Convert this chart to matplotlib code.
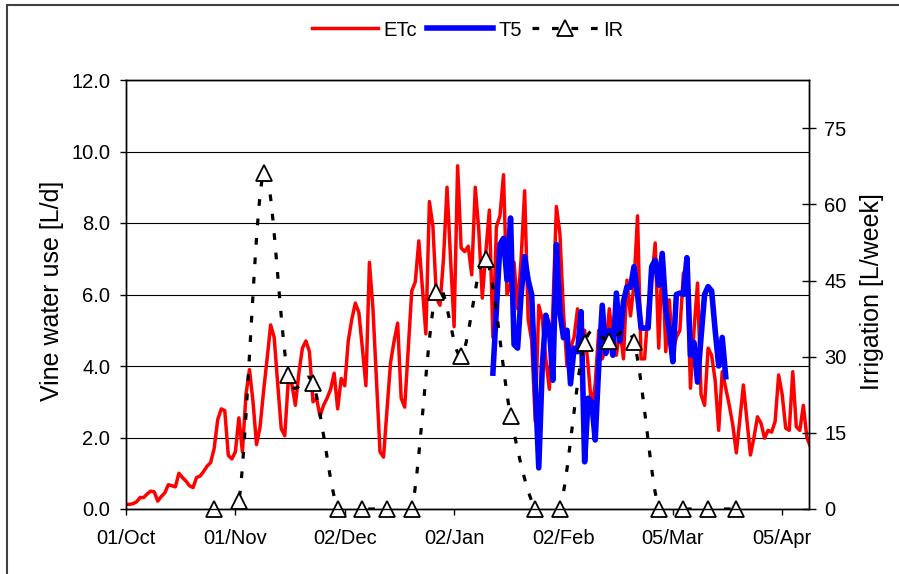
import matplotlib.pyplot as plt
import numpy as np
from matplotlib.lines import Line2D
from matplotlib.patches import Rectangle

plt.rcParams['font.family'] = ['Liberation Sans', 'DejaVu Sans']

# daily crop water use (L/d), day 0 = 01/Oct
etc = [0.13, 0.13, 0.15, 0.2, 0.32, 0.32, 0.42, 0.5, 0.48, 0.22,
       0.35, 0.45, 0.68, 0.65, 0.62, 1.0, 0.88, 0.78, 0.65, 0.6,
       0.88, 0.92, 1.05, 1.2, 1.3, 1.7, 2.5, 2.8, 2.75, 1.5,
       1.4, 1.6, 2.55, 1.6, 3.2, 3.9, 3.0, 1.8, 2.3, 3.3,
       4.2, 5.15, 4.8, 3.5, 2.25, 2.05, 3.6, 3.5, 2.9, 3.8,
       4.5, 4.7, 4.4, 3.0, 3.1, 2.6, 2.9, 3.1, 3.35, 3.8,
       2.8, 3.65, 3.45, 4.7, 5.3, 5.76, 5.5, 4.5, 3.45, 6.9,
       5.6, 3.6, 1.6, 1.45, 2.8, 4.1, 4.7, 5.2, 3.1, 2.85,
       4.5, 6.1, 6.35, 7.5, 6.2, 4.9, 8.6, 7.9, 5.9, 5.7,
       7.0, 9.0, 7.0, 5.1, 9.6, 7.3, 7.2, 7.35, 6.55, 9.0,
       7.8, 5.9, 7.2, 8.36, 4.8, 7.9, 8.2, 9.35, 6.0, 6.3,
       6.9, 5.6, 7.0, 8.9, 5.3, 4.7, 2.45, 5.7, 5.3, 4.2,
       3.35, 5.6, 8.46, 7.7, 5.5, 4.0, 4.5, 4.8, 5.6, 4.7,
       5.0, 4.0, 2.8, 3.5, 5.0, 4.2, 4.5, 5.6, 4.7, 4.3,
       5.06, 4.2, 6.4, 5.4, 6.3, 8.2, 4.2, 4.2, 5.6, 6.4,
       7.44, 4.5, 7.1, 4.4, 5.85, 4.4, 4.8, 5.0, 6.6, 6.65,
       3.38, 5.0, 6.32, 3.2, 2.9, 4.5, 4.3, 3.6, 2.2, 3.84,
       3.38, 2.9, 2.35, 1.57, 2.5, 3.47, 2.5, 1.51, 2.0, 2.58,
       2.4, 1.98, 2.2, 2.15, 2.45, 3.75, 3.2, 2.26, 2.2, 3.84,
       2.3, 2.2, 2.9, 2.0, 1.74]
etc_days = np.arange(len(etc))

# measured vine water use T5 (L/d)
t5_start = 104
t5 = [3.8, 5.6, 7.4, 7.57, 6.4, 8.14, 4.6, 4.5, 6.0, 7.06,
      6.4, 6.0, 3.5, 1.15, 4.0, 5.42, 5.06, 3.6, 7.4, 5.5,
      4.79, 5.0, 3.5, 4.5, 4.4, 5.52, 1.32, 3.1, 3.0, 1.93,
      4.0, 5.7, 4.35, 5.0, 4.3, 6.04, 4.7, 5.8, 6.22, 6.2,
      6.78, 6.0, 5.06, 5.06, 5.06, 6.78, 6.96, 6.26, 7.15, 5.6,
      5.0, 4.12, 6.0, 6.04, 6.0, 7.03, 4.3, 4.66, 3.55, 4.8,
      6.0, 6.22, 6.1, 5.0, 4.0, 4.8, 3.7]
t5_days = np.arange(t5_start, t5_start + len(t5))

# weekly irrigation (L/week)
ir_days = [25, 32, 39, 46, 53, 60, 67, 74, 81, 88, 95,
           102, 109, 116, 123, 130, 137, 144, 151, 158, 165, 173]
ir = [0, 1.5, 66.1, 26.3, 24.8, 0, 0, 0, 0, 42.8, 30.2,
      49.3, 18.4, 0, 0, 32.6, 33.0, 32.8, 0, 0, 0, 0]

tick_days = [0, 31, 62, 93, 124, 155, 186]
tick_labels = ['01/Oct', '01/Nov', '02/Dec', '02/Jan', '02/Feb', '05/Mar', '05/Apr']


def smooth(x, y, sx, sy, n=24):
    # excel-like smoothed line (catmull-rom bezier)
    p = np.column_stack([np.asarray(x, float) * sx, np.asarray(y, float) * sy])
    p = np.vstack([p[0], p, p[-1]])
    t = np.linspace(0, 1, n, endpoint=False)[:, None]
    out = []
    for i in range(1, len(p) - 2):
        p0, p1, p2, p3 = p[i - 1], p[i], p[i + 1], p[i + 2]
        c1 = p1 + (p2 - p0) / 6
        c2 = p2 - (p3 - p1) / 6
        out.append((1 - t) ** 3 * p1 + 3 * (1 - t) ** 2 * t * c1 + 3 * (1 - t) * t ** 2 * c2 + t ** 3 * p2)
    out.append(p[-2][None, :])
    out = np.vstack(out)
    return out[:, 0] / sx, out[:, 1] / sy


W, H = 899, 574
fig = plt.figure(figsize=(W / 100, H / 100), dpi=100)
ax = fig.add_axes([126 / W, 1 - 509 / H, 683 / W, 429 / H])
ax2 = ax.twinx()

xmax = 193.6
ax.set_xlim(0, xmax)
ax.set_ylim(0, 12)
ax2.set_ylim(0, 84.5)

ax.yaxis.grid(True, color='k', lw=0.8)
ax.set_axisbelow(True)

ax.plot(etc_days, etc, color='#ff0000', lw=2.5, zorder=2)
ax.plot(t5_days, t5, color='#0000ff', lw=4.0, zorder=3)

ir_dash = (2.1, 4.0)
sx = 683 / xmax
sy = 429 / 84.5
xs, ys = smooth(ir_days, ir, sx, sy)
ax2.plot(xs, ys, color='k', lw=2.3, dashes=ir_dash)
ax2.plot(ir_days, ir, ls='none', marker='^', ms=11.5, mfc='white', mec='k', mew=1.3, clip_on=False)

ax.set_xticks(tick_days, tick_labels)
ax.set_yticks(np.arange(0, 12.1, 2))
ax.set_yticklabels([f'{v:.1f}' for v in np.arange(0, 12.1, 2)])
ax2.set_yticks([0, 15, 30, 45, 60, 75])

ax.tick_params(axis='x', direction='out', length=4.3, width=1, pad=10, labelsize=14.5)
ax.tick_params(axis='y', direction='out', length=4.3, width=1, pad=7, labelsize=14.5)
ax2.tick_params(axis='y', direction='inout', length=10, width=1, pad=6, labelsize=14.5)

for a in (ax, ax2):
    for s in a.spines.values():
        s.set_color('k')
        s.set_linewidth(1)

ax.set_ylabel('Vine water use [L/d]', fontsize=18)
ax.yaxis.set_label_coords(-0.0908, 0.508)
ax2.set_ylabel('Irrigation [L/week]', fontsize=18)
ax2.yaxis.set_label_coords(1.075, 0.508)

handles = [Line2D([], [], color='#ff0000', lw=2.5),
           Line2D([], [], color='#0000ff', lw=4.0),
           Line2D([], [], color='k', lw=2.3, dashes=ir_dash, marker='^', ms=11.5,
                  mfc='white', mec='k', mew=1.3)]
fig.legend(handles, ['ETc', 'T5', 'IR'], loc='center', bbox_to_anchor=(467.5 / W, 1 - 30 / H),
           ncol=3, frameon=False, fontsize=14.5, handlelength=3.3, handletextpad=0.25,
           columnspacing=0.5)

# outer chart border
fig.add_artist(Rectangle((7 / W, -0.1), 1.2, 1 - 5 / H + 0.1, transform=fig.transFigure,
                         fill=False, edgecolor='#404040', lw=1.5, clip_on=False))

fig.savefig('out.png', dpi=100)
